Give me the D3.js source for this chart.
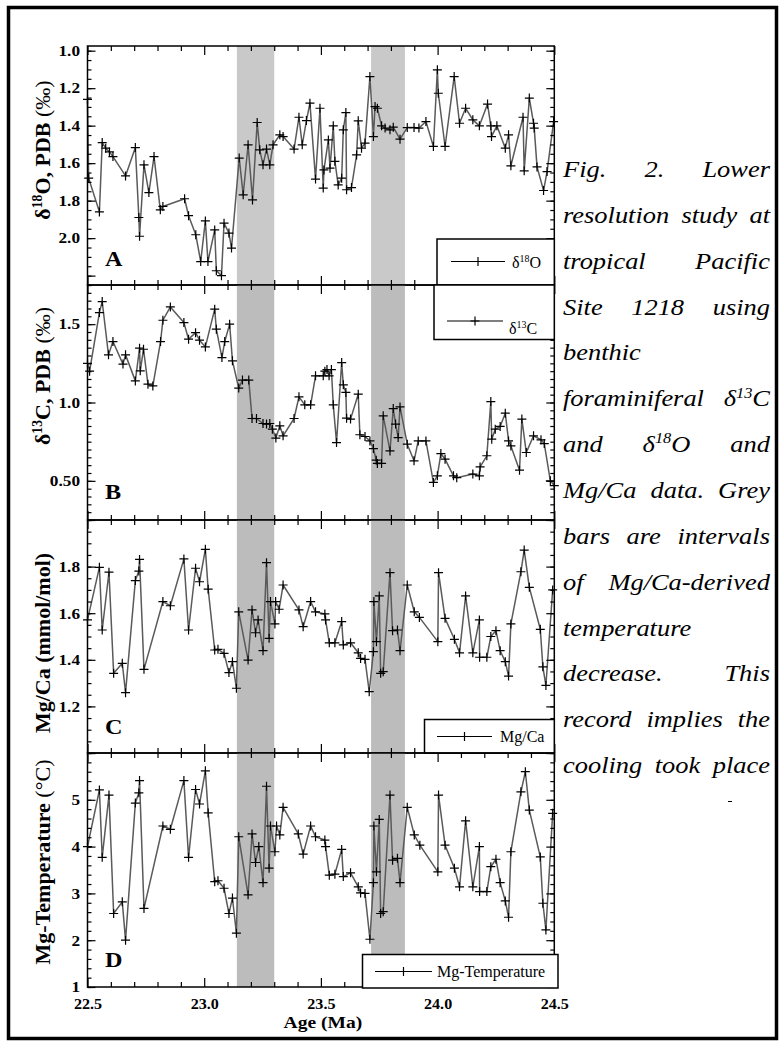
<!DOCTYPE html>
<html>
<head>
<meta charset="utf-8">
<script src="https://cdn.jsdelivr.net/npm/d3@7"></script>
<style>
  body { margin: 0; background: #fff; }
  svg text { font-family: "Liberation Serif", "Times New Roman", serif; }
</style>
</head>
<body>
<svg id="chart" width="781" height="1044"></svg>
<script>
'use strict';

// ── Data (age in Ma, value) ────────────────────────────────────────────────
const d18O = [
  [22.500,1.26],[22.505,1.68],[22.551,1.86],[22.563,1.49],[22.578,1.52],[22.594,1.54],[22.609,1.565],
  [22.663,1.668],[22.705,1.517],[22.720,1.89],[22.723,1.99],[22.742,1.609],[22.763,1.757],[22.785,1.565],
  [22.812,1.849],[22.823,1.831],[22.916,1.79],[22.933,1.88],[22.964,1.982],[22.985,2.125],[23.005,1.908],
  [23.016,2.125],[23.045,1.956],[23.052,2.174],[23.074,2.20],[23.085,1.92],[23.106,1.973],[23.117,2.053],
  [23.150,1.573],[23.167,1.769],[23.188,1.502],[23.207,1.796],[23.227,1.383],[23.238,1.529],[23.252,1.609],
  [23.267,1.525],[23.281,1.609],[23.295,1.502],[23.324,1.449],[23.338,1.458],[23.385,1.525],[23.406,1.355],
  [23.420,1.502],[23.438,1.373],[23.453,1.28],[23.477,1.685],[23.496,1.307],[23.510,1.733],[23.513,1.636],
  [23.532,1.476],[23.539,1.627],[23.553,1.401],[23.560,1.59],[23.574,1.716],[23.589,1.68],[23.596,1.422],
  [23.607,1.33],[23.610,1.742],[23.631,1.73],[23.653,1.556],[23.660,1.374],[23.674,1.52],[23.689,1.493],
  [23.710,1.138],[23.725,1.458],[23.732,1.298],[23.742,1.307],[23.760,1.401],[23.775,1.413],[23.796,1.422],
  [23.810,1.408],[23.839,1.472],[23.870,1.41],[23.899,1.41],[23.920,1.413],[23.950,1.378],[23.982,1.511],
  [23.999,1.102],[24.003,1.227],[24.032,1.511],[24.071,1.138],[24.094,1.387],[24.120,1.307],[24.151,1.369],
  [24.179,1.401],[24.214,1.285],[24.228,1.401],[24.231,1.458],[24.254,1.401],[24.290,1.52],[24.304,1.449],
  [24.314,1.614],[24.366,1.355],[24.371,1.641],[24.393,1.253],[24.411,1.387],[24.414,1.413],[24.426,1.62],
  [24.454,1.746],[24.469,1.645],[24.497,1.378]
];

const d13C = [
  [22.500,1.25],[22.509,1.20],[22.551,1.574],[22.563,1.644],[22.590,1.304],[22.609,1.389],[22.652,1.245],
  [22.663,1.304],[22.705,1.138],[22.723,1.347],[22.726,1.202],[22.740,1.34],[22.759,1.117],[22.780,1.106],
  [22.813,1.389],[22.823,1.525],[22.855,1.61],[22.913,1.51],[22.933,1.404],[22.963,1.446],[22.980,1.398],
  [23.005,1.355],[23.045,1.596],[23.052,1.468],[23.076,1.287],[23.088,1.389],[23.109,1.50],[23.121,1.266],
  [23.148,1.092],[23.164,1.143],[23.191,1.143],[23.205,0.898],[23.224,0.898],[23.252,0.866],[23.267,0.862],
  [23.281,0.866],[23.292,0.83],[23.307,0.773],[23.324,0.851],[23.338,0.787],[23.385,0.898],[23.406,1.036],
  [23.431,0.985],[23.456,0.985],[23.477,1.17],[23.510,1.17],[23.517,1.20],[23.526,1.21],[23.535,1.17],
  [23.545,1.21],[23.553,0.985],[23.567,0.744],[23.589,1.255],[23.596,1.113],[23.607,1.064],[23.610,0.90],
  [23.627,0.894],[23.660,1.053],[23.667,0.794],[23.689,0.783],[23.710,0.755],[23.725,0.706],[23.737,0.632],
  [23.742,0.611],[23.760,0.611],[23.767,0.915],[23.796,0.691],[23.810,0.961],[23.820,0.862],[23.831,0.776],
  [23.839,0.972],[23.870,0.734],[23.899,0.628],[23.917,0.755],[23.950,0.755],[23.982,0.49],[23.999,0.532],
  [24.014,0.674],[24.032,0.638],[24.068,0.532],[24.082,0.52],[24.151,0.543],[24.179,0.532],[24.182,0.589],
  [24.211,0.66],[24.228,1.006],[24.232,0.766],[24.247,0.83],[24.268,0.847],[24.290,0.932],[24.304,0.755],
  [24.314,0.723],[24.351,0.568],[24.361,0.894],[24.380,0.681],[24.411,0.787],[24.443,0.762],[24.457,0.738],
  [24.483,0.50],[24.500,0.47]
];

const mgCa = [
  [22.500,1.571],[22.551,1.797],[22.563,1.528],[22.592,1.776],[22.612,1.342],[22.649,1.385],[22.663,1.259],
  [22.705,1.74],[22.720,1.781],[22.723,1.831],[22.742,1.359],[22.823,1.65],[22.855,1.632],[22.913,1.833],
  [22.933,1.528],[22.963,1.793],[22.980,1.735],[23.005,1.874],[23.017,1.703],[23.045,1.442],[23.059,1.445],
  [23.085,1.428],[23.106,1.345],[23.121,1.392],[23.138,1.278],[23.148,1.606],[23.188,1.399],[23.205,1.614],
  [23.220,1.516],[23.231,1.571],[23.252,1.439],[23.267,1.817],[23.278,1.492],[23.284,1.65],[23.303,1.554],
  [23.306,1.65],[23.321,1.617],[23.338,1.721],[23.406,1.614],[23.424,1.542],[23.456,1.65],[23.477,1.606],
  [23.517,1.597],[23.520,1.571],[23.536,1.473],[23.560,1.473],[23.589,1.564],[23.596,1.464],[23.627,1.473],
  [23.660,1.43],[23.670,1.406],[23.689,1.402],[23.707,1.263],[23.725,1.435],[23.727,1.65],[23.738,1.478],
  [23.750,1.674],[23.756,1.342],[23.767,1.349],[23.796,1.774],[23.807,1.525],[23.828,1.528],[23.839,1.439],
  [23.870,1.721],[23.900,1.606],[23.922,1.582],[24.001,1.478],[24.004,1.774],[24.032,1.578],[24.072,1.488],
  [24.094,1.43],[24.120,1.674],[24.151,1.43],[24.179,1.571],[24.180,1.411],[24.211,1.411],[24.228,1.50],
  [24.250,1.525],[24.268,1.439],[24.290,1.392],[24.304,1.33],[24.314,1.554],[24.357,1.778],[24.371,1.871],
  [24.393,1.711],[24.440,1.531],[24.451,1.37],[24.464,1.29],[24.493,1.70]
];

const mgTemp = [
  [22.500,4.0],[22.551,5.21],[22.563,3.77],[22.592,5.10],[22.612,2.57],[22.649,2.82],[22.663,2.0],
  [22.705,4.93],[22.720,5.15],[22.723,5.41],[22.742,2.68],[22.823,4.44],[22.855,4.37],[22.913,5.41],
  [22.933,3.77],[22.963,5.22],[22.980,4.91],[23.005,5.62],[23.017,4.72],[23.045,3.25],[23.059,3.27],
  [23.085,3.11],[23.106,2.57],[23.121,2.90],[23.138,2.15],[23.148,4.21],[23.188,2.97],[23.205,4.27],
  [23.220,3.66],[23.234,4.0],[23.252,3.23],[23.267,5.29],[23.278,3.54],[23.284,4.44],[23.303,3.89],
  [23.310,4.44],[23.324,4.25],[23.338,4.84],[23.403,4.27],[23.424,3.84],[23.456,4.44],[23.477,4.21],
  [23.517,4.14],[23.520,4.0],[23.536,3.39],[23.560,3.41],[23.589,3.94],[23.596,3.36],[23.627,3.44],
  [23.660,3.14],[23.670,3.01],[23.689,3.0],[23.710,2.02],[23.725,3.23],[23.727,4.44],[23.738,3.46],
  [23.750,4.58],[23.756,2.57],[23.767,2.61],[23.796,5.10],[23.807,3.71],[23.828,3.75],[23.839,3.23],
  [23.870,4.84],[23.900,4.25],[23.924,4.03],[24.001,3.46],[24.004,5.10],[24.032,4.03],[24.072,3.54],
  [24.094,3.14],[24.120,4.55],[24.151,3.14],[24.179,4.0],[24.180,3.04],[24.211,3.04],[24.228,3.57],
  [24.250,3.73],[24.268,3.23],[24.290,2.84],[24.304,2.49],[24.314,3.89],[24.357,5.17],[24.376,5.60],
  [24.393,4.78],[24.440,3.78],[24.451,2.79],[24.464,2.22],[24.493,4.71]
];

// grey cooling intervals (Ma)
const coolBands = [[23.14, 23.30], [23.715, 23.86]];

// axis ticks
const ageLabels   = [22.5, 23.0, 23.5, 24.0, 24.5];
const ageMinor    = d3.range(22.6, 24.45, 0.1).filter(v => Math.abs(v * 2 - Math.round(v * 2)) > 0.01);
const o18Labels   = [1.0, 1.2, 1.4, 1.6, 1.8, 2.0];
const c13Labels   = [1.5, 1.0, 0.5];
const mgLabels    = [1.8, 1.6, 1.4, 1.2];
const tempLabels  = [5, 4, 3, 2, 1];

const captionLines = [
  { text: 'Fig. 2. Lower', justify: true },
  { text: 'resolution study at', justify: true },
  { text: 'tropical Pacific', justify: true },
  { text: 'Site 1218 using', justify: true },
  { text: 'benthic', justify: false },
  { text: 'foraminiferal δ^13^C', justify: true },
  { text: 'and δ^18^O and', justify: true },
  { text: 'Mg/Ca data. Grey', justify: true },
  { text: 'bars are intervals', justify: true },
  { text: 'of Mg/Ca-derived', justify: true },
  { text: 'temperature', justify: false },
  { text: 'decrease. This', justify: true },
  { text: 'record implies the', justify: true },
  { text: 'cooling took place', justify: true }
];

// ── Layout ────────────────────────────────────────────────────────────────
const svg  = d3.select('#chart');
const FONT = '"Liberation Serif", "Times New Roman", serif';
const SX   = 1.15;   // source figure is stretched sideways a bit
const X0   = 87.5, X1 = 554.3;
const x    = d3.scaleLinear().domain([22.5, 24.5]).range([X0, X1]);

const stepRange = (a, b, s) => d3.range(Math.round(a / s), Math.round(b / s) + 1).map(k => +(k * s).toFixed(3));

const panels = [
  { data: d18O, top: 46, bottom: 285, yDom: [0.975, 2.25], band: '#c9c9c9',
    major: stepRange(1.0, 2.2, 0.2), minor: stepRange(1.0, 2.25, 0.05),
    labels: o18Labels, fmt: d3.format('.1f'),
    letter: 'A', letterY: 266, titleY: 150,
    title: [{ t: 'δ' }, { t: '18', sup: true }, { t: 'O, PDB ' }, { t: '(‰)', w: 'normal' }],
    legend: { x0: 437, x1: 554.3, y0: 239, y1: 285, ly: 261.5, l0: 451, l1: 505, tx: 512, ty: 268,
              parts: [{ t: 'δ' }, { t: '18', sup: true }, { t: 'O' }] } },
  { data: d13C, top: 285, bottom: 520, yDom: [1.75, 0.25], band: '#bcbcbc',
    major: [0.5, 1.0, 1.5], minor: stepRange(0.25, 1.75, 0.05),
    labels: c13Labels, fmt: d => d === 0.5 ? '0.50' : d3.format('.1f')(d),
    letter: 'B', letterY: 499, titleY: 376,
    title: [{ t: 'δ' }, { t: '13', sup: true }, { t: 'C, PDB ' }, { t: '(‰)', w: 'normal' }],
    legend: { x0: 434, x1: 554.3, y0: 285, y1: 339.5, ly: 321, l0: 447, l1: 503, tx: 509, ty: 334,
              parts: [{ t: 'δ' }, { t: '13', sup: true }, { t: 'C' }] } },
  { data: mgCa, top: 520, bottom: 753, yDom: [2.0, 1.0], band: '#bcbcbc',
    major: stepRange(1.0, 2.0, 0.2), minor: stepRange(1.0, 2.0, 0.05),
    labels: mgLabels, fmt: d3.format('.1f'),
    letter: 'C', letterY: 734, titleY: 643,
    title: [{ t: 'Mg/Ca (mmol/mol)' }],
    legend: { x0: 424.5, x1: 554.3, y0: 719.5, y1: 753, ly: 736.5, l0: 437, l1: 492, tx: 500, ty: 742,
              parts: [{ t: 'Mg/Ca' }] } },
  { data: mgTemp, top: 753, bottom: 987, yDom: [6, 1], band: '#bcbcbc',
    major: stepRange(1, 6, 1), minor: stepRange(1, 6, 0.2),
    labels: tempLabels, fmt: d3.format('d'),
    letter: 'D', letterY: 967, titleY: 862,
    title: [{ t: 'Mg-Temperature ' }, { t: '(°C)', w: 'normal' }],
    legend: { x0: 362.5, x1: 558, y0: 954.5, y1: 988, ly: 971.5, l0: 375, l1: 432, tx: 437, ty: 977,
              parts: [{ t: 'Mg-Temperature' }] } }
];

// text with superscript parts
function rich(text, parts, size) {
  let shift = 0;
  parts.forEach(p => {
    if (p.t === '') return;
    const s = text.append('tspan').text(p.t);
    if (p.sup) {
      s.attr('font-size', size * 0.62).attr('dy', -size * 0.38);
      shift = size * 0.38;
    } else if (shift) {
      s.attr('dy', shift);
      shift = 0;
    }
    if (p.w) s.attr('font-weight', p.w);
  });
}

// inward tick marks only
function addTicks(gen, values, size, tx, ty) {
  const a = svg.append('g')
    .attr('transform', `translate(${tx},${ty})`)
    .call(gen.tickValues(values).tickSize(-size).tickSizeOuter(0).tickFormat(''));
  a.select('.domain').remove();
  a.selectAll('line').attr('stroke', '#000').attr('stroke-width', 1.2);
}

function styleLabels(a, size) {
  a.select('.domain').remove();
  a.selectAll('text')
    .attr('font-family', FONT)
    .attr('font-weight', 'bold').attr('font-size', size).attr('fill', '#000')
    .attr('transform', `scale(${SX},1)`);
}

const PLUS = 'M-4.5,0H4.5M0,-4.5V4.5';

panels.forEach(p => {
  const y = d3.scaleLinear().domain(p.yDom).range([p.top, p.bottom]);

  // grey bands
  coolBands.forEach(b => {
    svg.append('rect')
      .attr('x', x(b[0])).attr('width', x(b[1]) - x(b[0]))
      .attr('y', p.top).attr('height', p.bottom - p.top)
      .attr('fill', p.band);
  });

  // series line + markers
  svg.append('path')
    .datum(p.data)
    .attr('d', d3.line().x(d => x(d[0])).y(d => y(d[1])))
    .attr('fill', 'none')
    .attr('stroke', '#5a5a5a')
    .attr('stroke-width', 1.5)
    .attr('stroke-linejoin', 'round');

  svg.append('g').selectAll('path')
    .data(p.data)
    .join('path')
    .attr('transform', d => `translate(${x(d[0])},${y(d[1])})`)
    .attr('d', PLUS)
    .attr('stroke', '#000')
    .attr('stroke-width', 1.2)
    .attr('fill', 'none');

  // y ticks, inward on both sides
  addTicks(d3.axisLeft(y), p.minor, 4, X0, 0);
  addTicks(d3.axisLeft(y), p.major, 8, X0, 0);
  addTicks(d3.axisRight(y), p.minor, 4, X1, 0);
  addTicks(d3.axisRight(y), p.major, 8, X1, 0);

  const yl = svg.append('g')
    .attr('transform', `translate(${X0},0)`)
    .call(d3.axisLeft(y).tickValues(p.labels).tickSize(0).tickPadding(6.5).tickFormat(p.fmt));
  styleLabels(yl, 15);

  // x ticks, top and bottom of every panel
  addTicks(d3.axisTop(x), ageMinor, 5, 0, p.top);
  addTicks(d3.axisTop(x), ageLabels, 9, 0, p.top);
  addTicks(d3.axisBottom(x), ageMinor, 5, 0, p.bottom);
  addTicks(d3.axisBottom(x), ageLabels, 9, 0, p.bottom);

  // frame
  svg.append('rect')
    .attr('x', X0).attr('y', p.top)
    .attr('width', X1 - X0).attr('height', p.bottom - p.top)
    .attr('fill', 'none').attr('stroke', '#000').attr('stroke-width', 1.5);

  // panel letter
  svg.append('text')
    .attr('transform', `translate(105,${p.letterY}) scale(${SX},1)`)
    .attr('font-weight', 'bold').attr('font-size', 21)
    .text(p.letter);

  // y title
  const tt = svg.append('text')
    .attr('transform', `translate(50,${p.titleY}) rotate(-90)`)
    .attr('text-anchor', 'middle')
    .attr('font-weight', 'bold').attr('font-size', 22);
  rich(tt, p.title, 22);

  // legend
  const L = p.legend;
  svg.append('rect')
    .attr('x', L.x0).attr('y', L.y0)
    .attr('width', L.x1 - L.x0).attr('height', L.y1 - L.y0)
    .attr('fill', '#fff').attr('stroke', '#000').attr('stroke-width', 1.5);
  svg.append('line')
    .attr('x1', L.l0).attr('x2', L.l1).attr('y1', L.ly).attr('y2', L.ly)
    .attr('stroke', '#000').attr('stroke-width', 1.2);
  svg.append('path')
    .attr('transform', `translate(${(L.l0 + L.l1) / 2},${L.ly})`)
    .attr('d', PLUS).attr('stroke', '#000').attr('stroke-width', 1.2);
  const lt = svg.append('text')
    .attr('transform', `translate(${L.tx},${L.ty})`)
    .attr('font-size', 16);
  rich(lt, L.parts, 16);
});

// x tick labels and title under panel D
const xl = svg.append('g')
  .attr('transform', 'translate(0,987)')
  .call(d3.axisBottom(x).tickValues(ageLabels).tickSize(0).tickPadding(12).tickFormat(d3.format('.1f')));
styleLabels(xl, 14);

svg.append('text')
  .attr('transform', `translate(${(X0 + X1) / 2 + 2},1028) scale(${SX},1)`)
  .attr('text-anchor', 'middle')
  .attr('font-weight', 'bold').attr('font-size', 17)
  .text('Age (Ma)');

// ── Caption on the right, justified ───────────────────────────────────────
const CAP_X0 = 563, CAP_X1 = 770, CAP_Y0 = 177, CAP_DY = 45.85, CAP_FS = 23;
const cap = svg.append('g');
captionLines.forEach((ln, i) => {
  const yb = CAP_Y0 + i * CAP_DY;
  const words = ln.text.split(' ').map(w => {
    const t = cap.append('text').attr('font-size', CAP_FS).attr('font-style', 'italic');
    rich(t, w.split('^').map((s, k) => ({ t: s, sup: k % 2 === 1 })), CAP_FS);
    return t;
  });
  const ws  = words.map(t => t.node().getComputedTextLength() * SX);
  const gap = (ln.justify && words.length > 1)
    ? (CAP_X1 - CAP_X0 - d3.sum(ws)) / (words.length - 1)
    : CAP_FS * 0.25 * SX;
  let cx = CAP_X0;
  words.forEach((t, k) => {
    t.attr('transform', `translate(${cx},${yb}) scale(${SX},1)`);
    cx += ws[k] + gap;
  });
});
// stray dash under the caption
svg.append('line').attr('x1', 728).attr('x2', 732).attr('y1', 801.5).attr('y2', 801.5)
  .attr('stroke', '#000').attr('stroke-width', 1);

// outer frame
svg.append('rect')
  .attr('x', 8.5).attr('y', 7.5).attr('width', 768).attr('height', 1031)
  .attr('fill', 'none').attr('stroke', '#000').attr('stroke-width', 3.5);
</script>
</body>
</html>
